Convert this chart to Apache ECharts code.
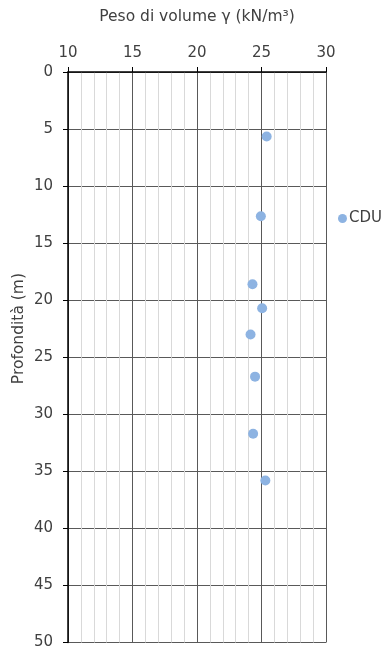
<!DOCTYPE html>
<html>
<head>
<meta charset="utf-8">
<script src="https://cdn.jsdelivr.net/npm/echarts@6/dist/echarts.min.js"></script>
<style>
  html, body { margin: 0; padding: 0; background: #fff; }
  #chart { width: 385px; height: 650px; }
</style>
</head>
<body>
<div id="chart"></div>
<script>
// Unit weight (kN/m³) versus depth (m) for the CDU samples
const seriesName = 'CDU';
const pesoVolume = [25.4, 24.95, 24.3, 25.05, 24.15, 24.5, 24.35, 25.3];
const profondita = [5.65, 12.65, 18.6, 20.7, 23.0, 26.7, 31.7, 35.8];

const points = pesoVolume.map((v, i) => [v, profondita[i]]);
const font = '"DejaVu Sans", sans-serif';
const textColor = '#404040';

const chart = echarts.init(document.getElementById('chart'));
chart.setOption({
  animation: false,
  textStyle: { fontFamily: font },
  grid: { left: 68, right: 59, top: 72, bottom: 5 },
  legend: {
    left: 333, top: 206,
    orient: 'vertical',
    icon: 'circle',
    itemWidth: 9, itemHeight: 9, itemGap: 4,
    textStyle: { fontSize: 15, color: textColor, fontFamily: font, padding: [0, 0, 0, -3] },
    data: [seriesName]
  },
  graphic: [{
    type: 'text',
    left: 11,
    top: 273,
    style: {
      text: 'Profondità (m)',
      font: '15.5px ' + font,
      fill: textColor
    },
    rotation: Math.PI / 2,
    originX: 0, originY: 0
  }],
  xAxis: {
    type: 'value',
    position: 'top',
    min: 10, max: 30, interval: 5,
    name: 'Peso di volume γ (kN/m³)',
    nameLocation: 'middle',
    nameGap: 47,
    nameTextStyle: { fontSize: 15.5, color: textColor },
    axisLine: { show: true, lineStyle: { color: '#000', width: 1.5 } },
    axisTick: { show: true, length: 5, lineStyle: { color: '#000' } },
    axisLabel: { fontSize: 15, color: textColor, margin: 11 },
    splitLine: { show: true, lineStyle: { color: '#595959', width: 1 } },
    minorTick: { show: false, splitNumber: 5 },
    minorSplitLine: { show: true, lineStyle: { color: '#d9d9d9', width: 1 } }
  },
  yAxis: {
    type: 'value',
    inverse: true,
    min: 0, max: 50, interval: 5,
    axisLine: { show: true, lineStyle: { color: '#000', width: 1.5 } },
    axisTick: { show: true, length: 5, lineStyle: { color: '#000' } },
    axisLabel: { fontSize: 15, color: textColor, margin: 15 },
    splitLine: { show: true, lineStyle: { color: '#595959', width: 1 } }
  },
  series: [{
    name: seriesName,
    type: 'scatter',
    symbol: 'circle',
    symbolSize: 10,
    itemStyle: { color: '#8db3e2', opacity: 1 },
    data: points
  }]
});
</script>
</body>
</html>
